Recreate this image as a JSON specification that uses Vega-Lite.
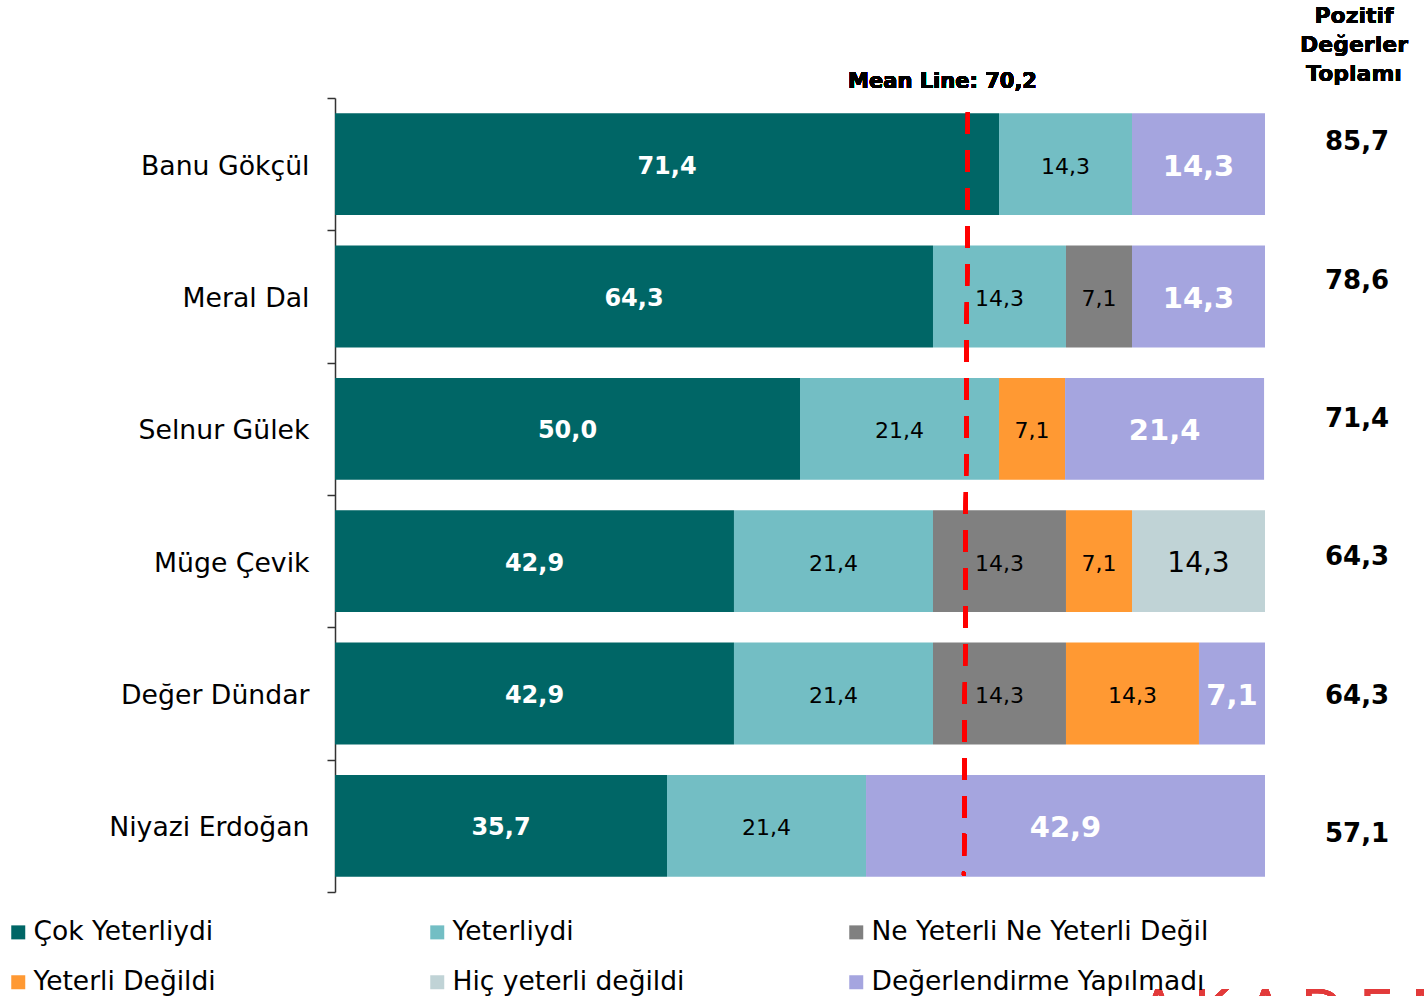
{
  "$schema": "https://vega.github.io/schema/vega-lite/v6.json",
  "width": 930,
  "height": 794,
  "autosize": "none",
  "padding": {"left": 335, "top": 98, "right": 159, "bottom": 104},
  "background": "white",
  "config": {
    "view": {"stroke": null},
    "font": "DejaVu Sans",
    "locale": {"number": {"decimal": ",", "thousands": ".", "grouping": [3], "currency": ["", ""]}}
  },
  "datasets": {
    "main": [
      {"name": "Banu Gökçül", "cat": "Çok Yeterliydi", "v": 71.4},
      {"name": "Banu Gökçül", "cat": "Yeterliydi", "v": 14.3},
      {"name": "Banu Gökçül", "cat": "Değerlendirme Yapılmadı", "v": 14.3},
      {"name": "Meral Dal", "cat": "Çok Yeterliydi", "v": 64.3},
      {"name": "Meral Dal", "cat": "Yeterliydi", "v": 14.3},
      {"name": "Meral Dal", "cat": "Ne Yeterli Ne Yeterli Değil", "v": 7.1},
      {"name": "Meral Dal", "cat": "Değerlendirme Yapılmadı", "v": 14.3},
      {"name": "Selnur Gülek", "cat": "Çok Yeterliydi", "v": 50.0},
      {"name": "Selnur Gülek", "cat": "Yeterliydi", "v": 21.4},
      {"name": "Selnur Gülek", "cat": "Yeterli Değildi", "v": 7.1},
      {"name": "Selnur Gülek", "cat": "Değerlendirme Yapılmadı", "v": 21.4},
      {"name": "Müge Çevik", "cat": "Çok Yeterliydi", "v": 42.9},
      {"name": "Müge Çevik", "cat": "Yeterliydi", "v": 21.4},
      {"name": "Müge Çevik", "cat": "Ne Yeterli Ne Yeterli Değil", "v": 14.3},
      {"name": "Müge Çevik", "cat": "Yeterli Değildi", "v": 7.1},
      {"name": "Müge Çevik", "cat": "Hiç yeterli değildi", "v": 14.3},
      {"name": "Değer Dündar", "cat": "Çok Yeterliydi", "v": 42.9},
      {"name": "Değer Dündar", "cat": "Yeterliydi", "v": 21.4},
      {"name": "Değer Dündar", "cat": "Ne Yeterli Ne Yeterli Değil", "v": 14.3},
      {"name": "Değer Dündar", "cat": "Yeterli Değildi", "v": 14.3},
      {"name": "Değer Dündar", "cat": "Değerlendirme Yapılmadı", "v": 7.1},
      {"name": "Niyazi Erdoğan", "cat": "Çok Yeterliydi", "v": 35.7},
      {"name": "Niyazi Erdoğan", "cat": "Yeterliydi", "v": 21.4},
      {"name": "Niyazi Erdoğan", "cat": "Değerlendirme Yapılmadı", "v": 42.9}
    ],
    "totals": [
      {"name": "Banu Gökçül", "pos": 85.7},
      {"name": "Meral Dal", "pos": 78.6},
      {"name": "Selnur Gülek", "pos": 71.4},
      {"name": "Müge Çevik", "pos": 64.3},
      {"name": "Değer Dündar", "pos": 64.3},
      {"name": "Niyazi Erdoğan", "pos": 57.1}
    ]
  },
  "layer": [
    {
      "data": {"name": "main"},
      "transform": [
        {"calculate": "indexof(['Çok Yeterliydi','Yeterliydi','Ne Yeterli Ne Yeterli Değil','Yeterli Değildi','Hiç yeterli değildi','Değerlendirme Yapılmadı'], datum.cat)", "as": "k"},
        {"stack": "v", "groupby": ["name"], "sort": [{"field": "k", "order": "ascending"}], "as": ["v0", "v1"]},
        {"calculate": "(datum.v0 + datum.v1) / 2", "as": "mid"}
      ],
      "encoding": {
        "y": {
          "field": "name",
          "type": "nominal",
          "sort": ["Banu Gökçül", "Meral Dal", "Selnur Gülek", "Müge Çevik", "Değer Dündar", "Niyazi Erdoğan"],
          "scale": {"paddingInner": 0, "paddingOuter": 0},
          "axis": {
            "title": null,
            "domainColor": "#333333",
            "domainWidth": 1.5,
            "tickColor": "#333333",
            "tickWidth": 1.5,
            "tickSize": 8,
            "tickBand": "extent",
            "labelFontSize": 26.7,
            "labelFont": "DejaVu Sans",
            "labelColor": "#000000",
            "labelPadding": 18,
            "labelOffset": 2,
            "labelLimit": 400,
            "grid": false
          }
        }
      },
      "layer": [
        {
          "mark": {"type": "bar", "height": {"band": 0.77}},
          "encoding": {
            "x": {"field": "v0", "type": "quantitative", "scale": {"domain": [0, 100], "nice": false}, "axis": null},
            "x2": {"field": "v1"},
            "color": {
              "field": "cat",
              "type": "nominal",
              "scale": {
                "domain": ["Çok Yeterliydi", "Yeterliydi", "Ne Yeterli Ne Yeterli Değil", "Yeterli Değildi", "Hiç yeterli değildi", "Değerlendirme Yapılmadı"],
                "range": ["#006666", "#73BEC4", "#808080", "#FF9933", "#C0D3D6", "#A5A5DF"]
              },
              "legend": {
                "title": null,
                "orient": "none",
                "legendX": -330,
                "legendY": 821,
                "direction": "horizontal",
                "columns": 3,
                "gridAlign": "all",
                "columnPadding": 53,
                "rowPadding": 23,
                "padding": 0,
                "symbolType": "square",
                "symbolSize": 196,
                "symbolStrokeWidth": 0,
                "labelFont": "DejaVu Sans",
                "labelFontSize": 26.5,
                "labelColor": "#000000",
                "labelOffset": 2,
                "labelLimit": 500
              }
            }
          }
        },
        {
          "transform": [{"filter": "datum.cat === 'Çok Yeterliydi'"}],
          "mark": {"type": "text", "color": "white", "fontWeight": "bold", "fontSize": 24, "baseline": "middle", "dy": 2.5},
          "encoding": {
            "x": {"field": "mid", "type": "quantitative", "scale": {"domain": [0, 100], "nice": false}},
            "text": {"field": "v", "type": "quantitative", "format": ".1f"}
          }
        },
        {
          "transform": [{"filter": "datum.cat === 'Değerlendirme Yapılmadı'"}],
          "mark": {"type": "text", "color": "white", "fontWeight": "bold", "fontSize": 29, "baseline": "middle", "dy": 2.5},
          "encoding": {
            "x": {"field": "mid", "type": "quantitative", "scale": {"domain": [0, 100], "nice": false}},
            "text": {"field": "v", "type": "quantitative", "format": ".1f"}
          }
        },
        {
          "transform": [{"filter": "datum.cat === 'Yeterliydi' || datum.cat === 'Ne Yeterli Ne Yeterli Değil' || datum.cat === 'Yeterli Değildi'"}],
          "mark": {"type": "text", "color": "black", "fontSize": 22, "baseline": "middle", "dy": 2.5},
          "encoding": {
            "x": {"field": "mid", "type": "quantitative", "scale": {"domain": [0, 100], "nice": false}},
            "text": {"field": "v", "type": "quantitative", "format": ".1f"}
          }
        },
        {
          "transform": [{"filter": "datum.cat === 'Hiç yeterli değildi'"}],
          "mark": {"type": "text", "color": "black", "fontSize": 28, "baseline": "middle", "dy": 2.5},
          "encoding": {
            "x": {"field": "mid", "type": "quantitative", "scale": {"domain": [0, 100], "nice": false}},
            "text": {"field": "v", "type": "quantitative", "format": ".1f"}
          }
        },
        {
          "mark": {"type": "rule", "color": "#FF0000", "strokeWidth": 4, "strokeDash": [22, 16]},
          "encoding": {
            "x": {"datum": 68.06, "type": "quantitative", "scale": {"domain": [0, 100], "nice": false}},
            "x2": {"datum": 67.63},
            "y": {"datum": "Banu Gökçül", "bandPosition": 0.105},
            "y2": {"datum": "Niyazi Erdoğan", "bandPosition": 0.875}
          }
        },
        {
          "mark": {"type": "text", "text": "Mean Line: 70,2", "fontWeight": "bold", "fontSize": 21, "color": "black", "baseline": "middle", "dx": -23, "dy": -82},
          "encoding": {
            "x": {"datum": 67.8, "type": "quantitative", "scale": {"domain": [0, 100], "nice": false}},
            "y": {"datum": "Banu Gökçül"}
          }
        }
      ]
    },
    {
      "data": {"name": "totals"},
      "encoding": {
        "y": {
          "field": "name",
          "type": "nominal",
          "sort": ["Banu Gökçül", "Meral Dal", "Selnur Gülek", "Müge Çevik", "Değer Dündar", "Niyazi Erdoğan"],
          "scale": {"range": [-27, 803], "paddingInner": 0, "paddingOuter": 0},
          "axis": null
        }
      },
      "layer": [
        {
          "mark": {"type": "text", "fontWeight": "bold", "fontSize": 26, "color": "black", "baseline": "middle", "dy": 2},
          "encoding": {
            "x": {"datum": 109.9, "type": "quantitative", "scale": {"domain": [0, 100], "nice": false}},
            "text": {"field": "pos", "type": "quantitative", "format": ".1f"}
          }
        },
        {
          "mark": {"type": "text", "text": "Pozitif\nDeğerler\nToplamı", "lineBreak": "\n", "lineHeight": 29, "fontWeight": "bold", "fontSize": 22, "color": "black", "baseline": "middle", "dy": -124},
          "encoding": {
            "x": {"datum": 109.57, "type": "quantitative", "scale": {"domain": [0, 100], "nice": false}},
            "y": {"datum": "Banu Gökçül"}
          }
        },
        {
          "mark": {"type": "text", "text": "A K A D E M İ", "fontSize": 54, "color": "#E23A3A", "opacity": 0.85, "align": "left", "baseline": "alphabetic", "dy": 196},
          "encoding": {
            "x": {"datum": 86.56, "type": "quantitative", "scale": {"domain": [0, 100], "nice": false}},
            "y": {"datum": "Niyazi Erdoğan"}
          }
        }
      ]
    }
  ],
  "resolve": {"scale": {"y": "independent"}}
}
